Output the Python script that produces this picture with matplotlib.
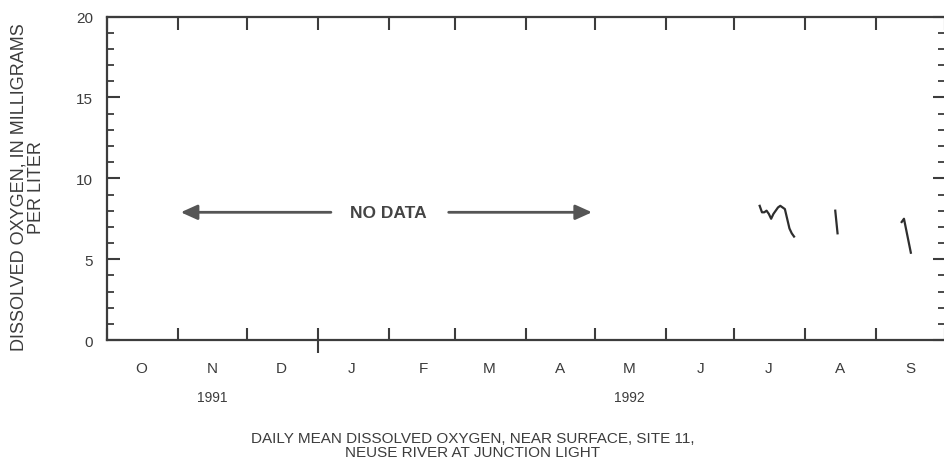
import datetime as dt

import matplotlib
matplotlib.use("Agg")
import matplotlib.pyplot as plt
import matplotlib.dates as mdates
from matplotlib.ticker import MultipleLocator, NullFormatter

plt.rcParams["font.family"] = ["Liberation Sans", "DejaVu Sans"]

# daily mean dissolved oxygen, mg/L (only the days that have record)
jul_days = [12, 13, 14, 15, 16, 17, 18, 19, 20, 21, 22, 23, 24, 25, 26, 27]
jul_do = [8.3, 7.9, 7.9, 8.0, 7.8, 7.5, 7.8, 8.0, 8.2, 8.3, 8.2, 8.1, 7.5, 6.9, 6.6, 6.4]
aug_days = [14, 15]
aug_do = [8.0, 6.6]
sep_days = [12, 13, 14, 15, 16]
sep_do = [7.3, 7.5, 6.8, 6.1, 5.4]

month_labels = ["O", "N", "D", "J", "F", "M", "A", "M", "J", "J", "A", "S"]
no_data_start = dt.date(1991, 11, 1)
no_data_end = dt.date(1992, 5, 1)
no_data_level = 7.9

ink = "#3c3c3c"

fig = plt.figure(figsize=(9.45, 4.64), dpi=100)
ax = fig.add_axes([0.1132, 0.265, 0.887, 0.697])

for month, days, vals in [(7, jul_days, jul_do), (8, aug_days, aug_do), (9, sep_days, sep_do)]:
    dates = [dt.date(1992, month, d) for d in days]
    ax.plot(dates, vals, color="#2e2e2e", lw=1.6, solid_joinstyle="round")

ax.set_xlim(dt.date(1991, 10, 1), dt.date(1992, 10, 1))
ax.set_ylim(0, 20)

# month boundaries as ticks, letters centred in each month
ax.xaxis.set_major_locator(mdates.MonthLocator())
ax.xaxis.set_major_formatter(NullFormatter())
ax.xaxis.set_minor_locator(mdates.MonthLocator(bymonthday=16))
ax.xaxis.set_minor_formatter(plt.FixedFormatter(month_labels))
ax.tick_params(axis="x", which="major", direction="in", length=9, width=1.5,
               color=ink, top=True, bottom=True)
ax.tick_params(axis="x", which="minor", length=0, pad=15, labelsize=11,
               labelcolor=ink)

ax.yaxis.set_major_locator(MultipleLocator(5))
ax.yaxis.set_minor_locator(MultipleLocator(1))
ax.tick_params(axis="y", which="major", direction="in", length=9, width=1.5,
               color=ink, left=True, right=True, labelsize=11, labelcolor=ink, pad=10)
ax.tick_params(axis="y", which="minor", direction="in", length=5, width=1.3,
               color=ink, left=True, right=True)

# calendar-year boundary tick crosses the axis
jan_tick = ax.xaxis.get_major_ticks()[3]
jan_tick.tick1line.set_marker("|")
jan_tick.tick1line.set_markersize(18)

for s in ax.spines.values():
    s.set_color(ink)
    s.set_linewidth(1.6)

ax.set_ylabel("DISSOLVED OXYGEN, IN MILLIGRAMS\nPER LITER", fontsize=13,
              color=ink, linespacing=1.0)
ax.yaxis.set_label_coords(-0.074, 0.475)

# year captions under the month letters
xt = ax.get_xaxis_transform()
ax.text(dt.date(1991, 11, 16), -0.175, "1991", transform=xt, ha="center",
        va="center", fontsize=10, color=ink)
ax.text(dt.date(1992, 5, 16), -0.175, "1992", transform=xt, ha="center",
        va="center", fontsize=10, color=ink)

# NO DATA marker
mid = dt.date(1992, 2, 1)
ax.text(mid, no_data_level, "NO DATA", ha="center", va="center",
        fontsize=12.5, fontweight="bold", color="#444444")
arrow = dict(arrowstyle="-|>,head_length=1.0,head_width=0.45", color="#555555", lw=2)
ax.annotate("", xy=(no_data_start, no_data_level),
            xytext=(dt.date(1992, 1, 8), no_data_level), arrowprops=arrow)
ax.annotate("", xy=(no_data_end, no_data_level),
            xytext=(dt.date(1992, 2, 26), no_data_level), arrowprops=arrow)

fig.text(0.5, 0.039, "DAILY MEAN DISSOLVED OXYGEN, NEAR SURFACE, SITE 11,\n"
         "NEUSE RIVER AT JUNCTION LIGHT", ha="center", va="center",
         fontsize=11, color=ink, linespacing=0.95)

fig.savefig("out.png", dpi=100)
